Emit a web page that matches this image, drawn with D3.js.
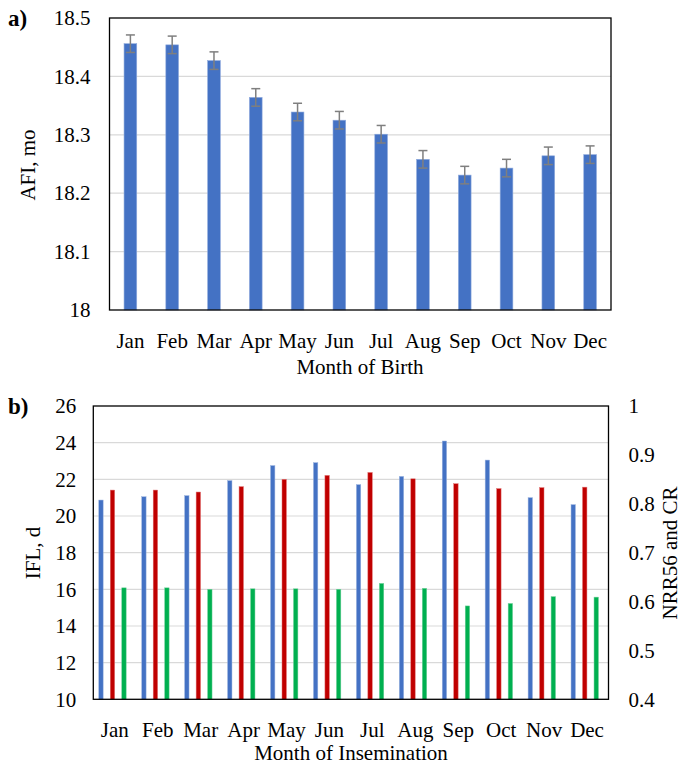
<!DOCTYPE html>
<html>
<head>
<meta charset="utf-8">
<script src="https://cdn.jsdelivr.net/npm/d3@7"></script>
<style>
  body { margin: 0; background: #fff; }
  text { font-family: "Liberation Serif", "Times New Roman", serif; fill: #000; }
</style>
</head>
<body>
<div id="chart"></div>
<script>
// month labels shared by both panels
const months = ["Jan", "Feb", "Mar", "Apr", "May", "Jun", "Jul", "Aug", "Sep", "Oct", "Nov", "Dec"]

// panel a) age at first insemination by month of birth
const afi = [18.456, 18.454, 18.427, 18.364, 18.339, 18.325, 18.301, 18.258, 18.231, 18.243, 18.264, 18.266]
const afiErr = [0.015, 0.015, 0.015, 0.015, 0.015, 0.015, 0.015, 0.015, 0.015, 0.015, 0.015, 0.015]
const afiTicks = [18, 18.1, 18.2, 18.3, 18.4, 18.5]

// panel b) by month of insemination
const ifl = [20.87, 21.05, 21.11, 21.93, 22.75, 22.91, 21.71, 22.16, 24.09, 23.05, 21.0, 20.62]
const nrr56 = [0.828, 0.828, 0.824, 0.835, 0.85, 0.858, 0.864, 0.851, 0.841, 0.831, 0.833, 0.834]
const cr = [0.628, 0.628, 0.625, 0.626, 0.626, 0.625, 0.637, 0.627, 0.591, 0.596, 0.61, 0.609]
const iflTicks = [10, 12, 14, 16, 18, 20, 22, 24, 26]
const rateTicks = [0.4, 0.5, 0.6, 0.7, 0.8, 0.9, 1]

let svg = d3.select("#chart").append("svg")
    .attr("width", 681)
    .attr("height", 765)

let blue = "#4472c4", red = "#c00000", green = "#00b050", grid = "#d9d9d9"
let serif = '"Liberation Serif", "Times New Roman", serif'

// axes from d3 set their own font, put the serif back
let styleAxis = (g, size) => {
    g.attr("font-family", serif).attr("font-size", size)
    g.select(".domain").remove()
    g.selectAll("text").attr("fill", "#000")
}

// ---------- panel a ----------
let a = { left: 109.5, right: 611, top: 18, bottom: 310 }
let xa = d3.scaleBand().domain(months).range([a.left, a.right])
let ya = d3.scaleLinear().domain([18, 18.5]).range([a.bottom, a.top])

let ga = svg.append("g")
ga.selectAll("line.grid").data(afiTicks.slice(1, -1)).join("line")
    .attr("class", "grid")
    .attr("x1", a.left).attr("x2", a.right)
    .attr("y1", d => ya(d)).attr("y2", d => ya(d))
    .attr("stroke", grid).attr("stroke-width", 1.2)

let bwA = 12.7
ga.selectAll("rect").data(afi).join("rect")
    .attr("x", (d, i) => xa(months[i]) + xa.bandwidth() / 2 - bwA / 2)
    .attr("y", d => ya(d))
    .attr("width", bwA)
    .attr("height", d => ya(18) - ya(d))
    .attr("fill", blue)
    .attr("stroke", "#8faadc").attr("stroke-width", 0.6)

let eb = ga.selectAll("g.err").data(afi).join("g").attr("class", "err")
    .attr("stroke", "#7f7f7f").attr("stroke-width", 1.5)
eb.append("line")
    .attr("x1", (d, i) => xa(months[i]) + xa.bandwidth() / 2)
    .attr("x2", (d, i) => xa(months[i]) + xa.bandwidth() / 2)
    .attr("y1", (d, i) => ya(d + afiErr[i]))
    .attr("y2", (d, i) => ya(d - afiErr[i]))
;[1, -1].forEach(s => {
    eb.append("line")
        .attr("x1", (d, i) => xa(months[i]) + xa.bandwidth() / 2 - 4.5)
        .attr("x2", (d, i) => xa(months[i]) + xa.bandwidth() / 2 + 4.5)
        .attr("y1", (d, i) => ya(d + s * afiErr[i]))
        .attr("y2", (d, i) => ya(d + s * afiErr[i]))
})

ga.append("rect")
    .attr("x", a.left).attr("y", a.top)
    .attr("width", a.right - a.left).attr("height", a.bottom - a.top)
    .attr("fill", "none").attr("stroke", "#000").attr("stroke-width", 1.3)

ga.append("g")
    .attr("transform", `translate(${a.left - 19},0)`)
    .call(d3.axisLeft(ya).tickValues(afiTicks).tickSize(0).tickFormat(d3.format("")))
    .call(g => styleAxis(g, 21))
    .selectAll("text").attr("x", 0)

ga.append("g")
    .attr("transform", `translate(0,${a.bottom + 20})`)
    .call(d3.axisBottom(xa).tickSize(0))
    .call(g => styleAxis(g, 21))

ga.append("text").attr("x", 360).attr("y", 374)
    .attr("text-anchor", "middle").attr("font-size", 21).text("Month of Birth")
ga.append("text").attr("transform", "translate(35,165) rotate(-90)")
    .attr("text-anchor", "middle").attr("font-size", 21).text("AFI, mo")
ga.append("text").attr("x", 8).attr("y", 26)
    .attr("font-size", 23).attr("font-weight", "bold").text("a)")

// ---------- panel b ----------
let b = { left: 93.3, right: 608.5, top: 406, bottom: 699.3 }
let xb = d3.scaleBand().domain(months).range([b.left, b.right])
let yl = d3.scaleLinear().domain([10, 26]).range([b.bottom, b.top])
let yr = d3.scaleLinear().domain([0.4, 1]).range([b.bottom, b.top])

let gb = svg.append("g")
gb.selectAll("line.grid").data(iflTicks.slice(1, -1)).join("line")
    .attr("class", "grid")
    .attr("x1", b.left).attr("x2", b.right)
    .attr("y1", d => yl(d)).attr("y2", d => yl(d))
    .attr("stroke", grid).attr("stroke-width", 1.2)

let bwB = 4.4
let series = [
    { vals: ifl, y: yl, color: blue, edge: "#9db5e0", off: -13.8 },
    { vals: nrr56, y: yr, color: red, edge: "#e07070", off: -2.3 },
    { vals: cr, y: yr, color: green, edge: "#70d09a", off: 9.2 }
]
series.forEach(s => {
    gb.append("g").selectAll("rect").data(s.vals).join("rect")
        .attr("x", (d, i) => xb(months[i]) + xb.bandwidth() / 2 + s.off - bwB / 2)
        .attr("y", d => s.y(d))
        .attr("width", bwB)
        .attr("height", d => b.bottom - s.y(d))
        .attr("fill", s.color)
        .attr("stroke", s.edge).attr("stroke-width", 0.5)
})

gb.append("rect")
    .attr("x", b.left).attr("y", b.top)
    .attr("width", b.right - b.left).attr("height", b.bottom - b.top)
    .attr("fill", "none").attr("stroke", "#000").attr("stroke-width", 1.3)

gb.append("g")
    .attr("transform", `translate(${b.left - 17},0)`)
    .call(d3.axisLeft(yl).tickValues(iflTicks).tickSize(0))
    .call(g => styleAxis(g, 21))
    .selectAll("text").attr("x", 0)

gb.append("g")
    .attr("transform", `translate(${b.right + 20},0)`)
    .call(d3.axisRight(yr).tickValues(rateTicks).tickSize(0).tickFormat(d3.format("")))
    .call(g => styleAxis(g, 21))
    .selectAll("text").attr("x", 0)

gb.append("g")
    .attr("transform", `translate(0,${b.bottom + 20})`)
    .call(d3.axisBottom(xb).tickSize(0))
    .call(g => styleAxis(g, 21))

gb.append("text").attr("x", 351).attr("y", 760)
    .attr("text-anchor", "middle").attr("font-size", 21).text("Month of Insemination")
gb.append("text").attr("transform", "translate(40,553) rotate(-90)")
    .attr("text-anchor", "middle").attr("font-size", 21).text("IFL, d")
gb.append("text").attr("transform", "translate(677,553) rotate(-90)")
    .attr("text-anchor", "middle").attr("font-size", 21).text("NRR56 and CR")
gb.append("text").attr("x", 8).attr("y", 414)
    .attr("font-size", 23).attr("font-weight", "bold").text("b)")
</script>
</body>
</html>
